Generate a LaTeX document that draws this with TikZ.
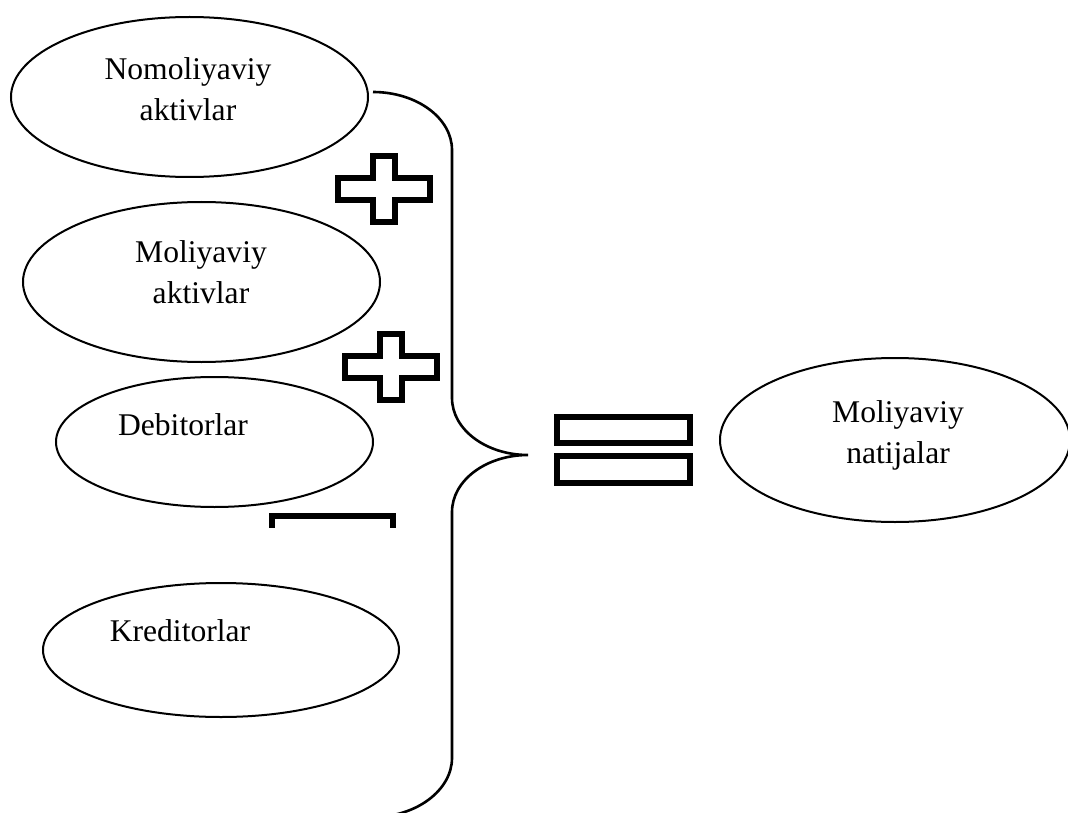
\documentclass[tikz,border=0pt]{standalone}
\usepackage{fontspec}
\setmainfont{Liberation Serif}
\usetikzlibrary{shapes.geometric}

% two centred lines whose reference point is the first baseline
\newcommand\twolines[2]{\vtop{\baselineskip=40.5pt\halign{\hfil##\hfil\cr #1\cr #2\cr}}}

\tikzset{
  oval/.style={ellipse, draw, line width=2pt, inner sep=0pt, outer sep=0pt},
  caption/.style={anchor=base, inner sep=0pt, font=\fontsize{31.6}{40.5}\selectfont},
  signline/.style={line width=6pt, line join=miter},
  bracket/.style={line width=2.6pt},
  plussign/.pic={
    \draw[signline] (-11,-33) -- (11,-33) -- (11,-11) -- (46,-11) -- (46,11)
      -- (11,11) -- (11,33) -- (-11,33) -- (-11,11) -- (-46,11) -- (-46,-11)
      -- (-11,-11) -- cycle;
  }
}

\begin{document}
\begin{tikzpicture}[x=1pt, y=-1pt]
  \useasboundingbox (0,0) rectangle (1068,813);

  % ovals
  \node[oval, minimum width=357pt, minimum height=160pt] (nomol)  at (189.5,97) {};
  \node[oval, minimum width=357pt, minimum height=160pt] (moliya) at (201.5,282) {};
  \node[oval, minimum width=317pt, minimum height=130pt] (debit)  at (214.5,442) {};
  \node[oval, minimum width=356pt, minimum height=134pt] (kredit) at (221,650) {};
  \node[oval, minimum width=350pt, minimum height=164pt] (natija) at (895,440) {};

  % captions
  \node[caption] (nomolT)  at (188,80)    {\twolines{Nomoliyaviy}{aktivlar}};
  \node[caption] (moliyaT) at (201,262.7) {\twolines{Moliyaviy}{aktivlar}};
  \node[caption] (debitT)  at (183,435.7) {Debitorlar};
  \node[caption] (kreditT) at (180,641.7) {Kreditorlar};
  \node[caption] (natijaT) at (898,422.7) {\twolines{Moliyaviy}{natijalar}};

  % operator signs
  \pic at (384,189) {plussign};
  \pic at (390.5,367) {plussign};
  \begin{scope}
    \clip (0,0) rectangle (1068,527);
    \draw[signline] (272,516) rectangle (393,538);
  \end{scope}
  \draw[signline] (557,417) rectangle (690,443);
  \draw[signline] (557,456) rectangle (690,483);

  % curly bracket gathering the terms
  \begin{scope}
    \clip (0,0) rectangle (1068,813);
    \coordinate (brTop) at (373,92);
    \coordinate (brTip) at (528,455);
    \coordinate (brEnd) at (373,817);
    \draw[bracket] (brTop) .. controls (416.6,92) and (452,118) .. (452,150)
      -- (452,398) .. controls (452,429.5) and (486,455) .. (brTip)
      .. controls (486,455) and (452,480.5) .. (452,512)
      -- (452,758) .. controls (452,790) and (416.6,817) .. (brEnd);
  \end{scope}
\end{tikzpicture}
\end{document}
